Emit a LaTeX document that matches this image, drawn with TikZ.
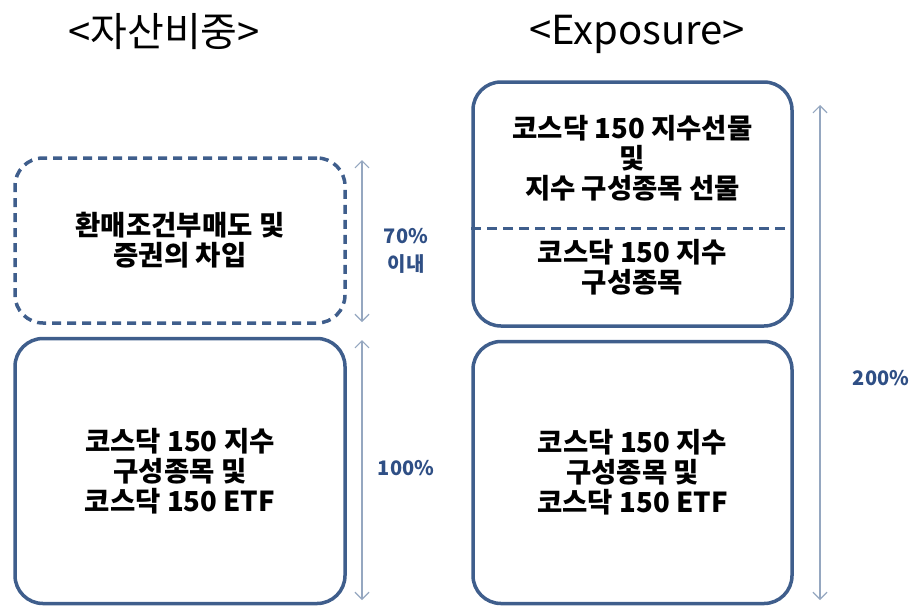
\documentclass[tikz,border=0pt]{standalone}
\usepackage{fontspec}
\setmainfont{Noto Sans CJK KR}
\newfontfamily\kr{Noto Sans CJK KR}
\usepackage{tikz}
\usetikzlibrary{positioning, arrows.meta}
\usepackage{xcolor}
\definecolor{boxblue}{HTML}{3F5E8C}
\definecolor{spangray}{HTML}{95A7C0}
\definecolor{pctblue}{HTML}{2F4F85}

\begin{document}
\begin{tikzpicture}[x=1pt, y=-1pt, node distance=12pt,
		box/.style={draw=boxblue, line width=3.5pt, rounded corners=28pt, minimum width=330pt},
		dashbox/.style={box, dash pattern=on 9pt off 6pt},
		txt/.style={align=center, font=\kr\bfseries\fontsize{27.5}{30}\selectfont},
		title/.style={font=\kr\fontsize{40}{42}\selectfont},
		span/.style={{Straight Barb[length=7pt,width=14pt]}-{Straight Barb[length=7pt,width=14pt]}, draw=spangray, line width=1.2pt},
		pct/.style={align=center, text=pctblue, font=\kr\bfseries\fontsize{20}{28}\selectfont}]
		\useasboundingbox (0,0) rectangle (918,606);
		
		% titles
		\node[title] (ttl1) at (164,32) {<자산비중>};
		\node[title] (ttl2) at (637,34) {<Exposure>};
		
		% left column
		\node[dashbox, minimum height=165pt, txt]  (repo)  at (180,240.5) {환매조건부매도 및\\증권의 차입};
		\node[box, minimum height=265pt, txt, below=12pt of repo] (stock) {코스닥 150 지수\\구성종목 및\\코스닥 150 ETF};
		
		% right column
		\node[box, minimum width=319pt, minimum height=244pt] (expo) at (632.5,204) {};
		\node[box, minimum width=319pt, minimum height=262pt, txt, below=12pt of expo] (stock2) {코스닥 150 지수\\구성종목 및\\코스닥 150 ETF};
		\node[txt] (fut)  at (632.5,158) {코스닥 150 지수선물\\및\\지수 구성종목 선물};
		\node[txt] (comp) at (632.5,267) {코스닥 150 지수\\구성종목};
		\coordinate (cut) at (632.5,228);
		\draw[boxblue, line width=3pt, dash pattern=on 10pt off 6pt] (expo.west |- cut) -- (expo.east |- cut);
		
		% spans
		\coordinate (a1) at (362,160);
		\coordinate (a2) at (362,322);
		\coordinate (b1) at (362,340);
		\coordinate (b2) at (362,600);
		\coordinate (c1) at (820,105);
		\coordinate (c2) at (820,600);
		\draw[span] (a1) -- (a2);
		\draw[span] (b1) -- (b2);
		\draw[span] (c1) -- (c2);
		\node[pct] (p70)  at (406,251) {70\%\\이내};
		\node[pct] (p100) at (406,468) {100\%};
		\node[pct] (p200) at (881,378) {200\%};
	\end{tikzpicture}
\end{document}
